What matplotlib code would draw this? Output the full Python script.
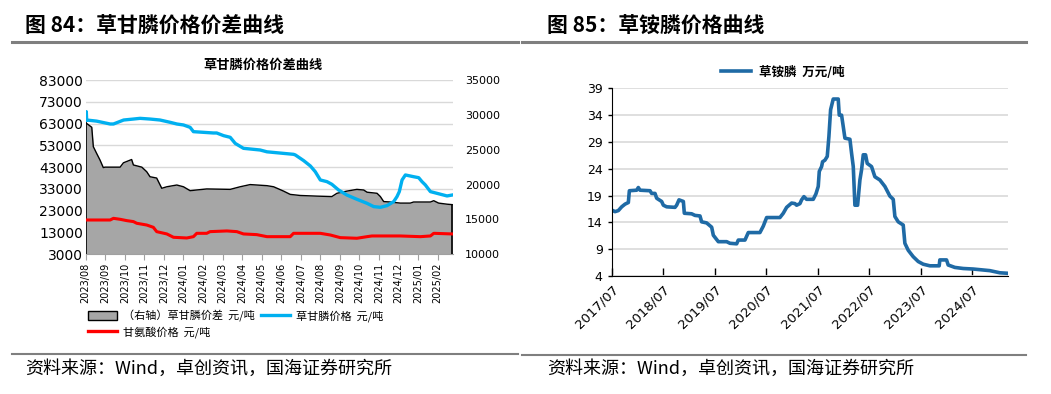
import matplotlib.pyplot as plt
import numpy as np
from matplotlib.lines import Line2D
from matplotlib.patches import Patch

plt.rcParams["font.family"] = ["Noto Sans CJK SC", "DejaVu Sans"]

# ---- left chart: glyphosate price / spread (x = months since 2023/08)
month_labels = ["2023/08", "2023/09", "2023/10", "2023/11", "2023/12",
                "2024/01", "2024/02", "2024/03", "2024/04", "2024/05",
                "2024/06", "2024/07", "2024/08", "2024/09", "2024/10",
                "2024/11", "2024/12", "2025/01", "2025/02"]

spread_x = [0, 0.31, 0.39, 0.56, 0.73, 0.9, 0.99, 1.76, 1.93, 2.35, 2.44,
            2.87, 3.12, 3.29, 3.63, 3.89, 4.15, 4.66, 5.0, 5.34, 6.19, 7.39,
            7.9, 8.41, 9.27, 9.61, 10.12, 10.46, 10.97, 11.83, 12.59, 12.85,
            13.36, 13.87, 14.22, 14.39, 14.9, 15.07, 15.24, 15.58, 16.09,
            16.6, 16.77, 17.63, 17.8, 18.05, 18.48, 18.74]
spread = [63400, 61300, 52400, 49300, 46300, 42800, 43000, 43000, 45000,
          46500, 44000, 43000, 40900, 38600, 38000, 33300, 34000, 34800,
          34000, 32200, 33000, 32800, 34000, 35000, 34500, 34000, 32000,
          30500, 30000, 29700, 29500, 31000, 32000, 32800, 32500, 31500,
          31000, 29500, 27200, 27000, 26500, 26500, 27000, 27000, 27600,
          26500, 26000, 25800]

gly_x = [0, 0.03, 0.05, 0.56, 1.25, 1.42, 1.94, 2.44, 2.78, 3.29, 3.8, 4.32,
         4.66, 5.0, 5.34, 5.51, 6.53, 6.7, 7.05, 7.39, 7.39, 7.65, 8.07, 8.92,
         9.27, 10.63, 10.72, 11.15, 11.49, 11.74, 12.0, 12.34, 12.59, 12.93,
         13.36, 13.87, 14.39, 14.73, 15.07, 15.41, 15.75, 15.92, 16.04,
         16.18, 16.35, 16.77, 17.03, 17.2, 17.37, 17.63, 18.48, 18.74]
gly_price = [29260, 30460, 29260, 29100, 28690, 28690, 29260, 29400, 29500,
             29400, 29260, 28930, 28690, 28550, 28210, 27590, 27400, 27400,
             27020, 26780, 26780, 25900, 25200, 24960, 24700, 24340, 24250,
             23430, 22670, 21850, 20660, 20420, 20040, 19230, 18500, 17890,
             17310, 16840, 16740, 16980, 17550, 18270, 18990, 20660, 21380,
             21130, 20990, 20420, 19950, 18990, 18370, 18500]

glycine_x = [0, 1.25, 1.42, 1.76, 2.1, 2.44, 2.61, 3.12, 3.46, 3.63, 4.15,
             4.49, 5.17, 5.51, 5.68, 6.19, 6.36, 7.22, 7.73, 8.07, 8.75, 9.27,
             10.46, 10.63, 12.0, 12.51, 13.02, 13.87, 14.39, 14.64, 16.09,
             17.12, 17.63, 17.8, 18.74]
glycine = [14920, 14920, 15160, 15020, 14830, 14690, 14450, 14200, 13870,
           13250, 12920, 12440, 12340, 12530, 13010, 13010, 13250, 13350,
           13250, 12920, 12820, 12530, 12530, 13010, 13010, 12770, 12390,
           12300, 12530, 12630, 12630, 12530, 12630, 13010, 12920]

# ---- right chart: glufosinate price (x = years since 2017/07)
year_labels = ["2017/07", "2018/07", "2019/07", "2020/07",
               "2021/07", "2022/07", "2023/07", "2024/07"]
glu_x = [0, 0.065, 0.129, 0.194, 0.259, 0.323, 0.343, 0.485, 0.517, 0.55,
         0.744, 0.776, 0.841, 0.873, 0.970, 1.003, 1.067, 1.229, 1.261,
         1.307, 1.391, 1.41, 1.552, 1.617, 1.714, 1.746, 1.843, 1.941,
         1.973, 2.070, 2.232, 2.296, 2.426, 2.458, 2.587, 2.652, 2.878,
         2.943, 3.008, 3.266, 3.331, 3.396, 3.493, 3.558, 3.590, 3.655,
         3.687, 3.732, 3.784, 3.913, 3.965, 4.010, 4.030, 4.075, 4.094,
         4.140, 4.185, 4.217, 4.250, 4.301, 4.398, 4.418, 4.463, 4.495,
         4.528, 4.625, 4.657, 4.690, 4.722, 4.774, 4.819, 4.851, 4.884,
         4.929, 4.961, 5.045, 5.110, 5.207, 5.304, 5.401, 5.466, 5.498,
         5.563, 5.660, 5.692, 5.757, 5.854, 5.951, 6.048, 6.177, 6.358,
         6.371, 6.501, 6.533, 6.662, 6.824, 7.018, 7.342, 7.536, 7.697]
glu_price = [16.3, 16.0, 16.2, 16.9, 17.4, 17.7, 19.9, 20.0, 20.5, 20.0,
             19.9, 19.4, 19.4, 18.5, 17.9, 17.2, 16.9, 16.8, 17.2, 18.2,
             17.9, 15.7, 15.6, 15.3, 15.2, 14.1, 13.9, 13.1, 11.6, 10.4,
             10.4, 10.1, 10.0, 10.7, 10.7, 12.1, 12.1, 13.3, 14.9, 14.9,
             15.7, 16.8, 17.6, 17.5, 17.2, 17.5, 18.2, 18.8, 18.3, 18.3,
             19.3, 20.7, 23.5, 24.4, 25.3, 25.6, 26.3, 30.0, 35.0, 37.0,
             37.0, 34.0, 34.0, 31.9, 29.7, 29.5, 26.9, 24.4, 17.2, 17.2,
             21.9, 23.8, 26.6, 26.6, 25.0, 24.4, 22.5, 21.9, 20.7, 18.9,
             18.3, 15.1, 14.1, 13.5, 10.1, 8.8, 7.6, 6.7, 6.2, 5.9, 5.9,
             7.0, 7.0, 6.05, 5.6, 5.4, 5.3, 5.0, 4.6, 4.5]

W, H = 1051, 394
fig = plt.figure(figsize=(W / 100, H / 100), dpi=100)


def px_rect(x0, y0, x1, y1):
    return [x0 / W, 1 - y1 / H, (x1 - x0) / W, (y1 - y0) / H]


def hline(x0, x1, y, lw):
    fig.add_artist(Line2D([x0 / W, x1 / W], [1 - y / H, 1 - y / H],
                          color="#7f7f7f", lw=lw, transform=fig.transFigure))


# headers and footers
fig.text(25 / W, 1 - 26 / H, "图 84：草甘膦价格价差曲线", fontsize=15,
         fontweight="bold", va="center", ha="left")
fig.text(547 / W, 1 - 26 / H, "图 85：草铵膦价格曲线", fontsize=15,
         fontweight="bold", va="center", ha="left")
hline(12, 518, 42, 2.2)
hline(522, 1026, 42, 2.2)
hline(12, 518, 354, 1.5)
hline(522, 1026, 355, 1.5)
src = "资料来源：Wind，卓创资讯，国海证券研究所"
fig.text(25 / W, 1 - 369 / H, src, fontsize=13, va="center", ha="left")
fig.text(547 / W, 1 - 369 / H, src, fontsize=13, va="center", ha="left")

# ---- left chart
ax1 = fig.add_axes(px_rect(85.7, 80, 452.7, 254.3))
ax2 = ax1.twinx()
ax1.fill_between(spread_x, 3000, spread, color="#a6a6a6", lw=0, zorder=2)
ax1.plot(spread_x, spread, color="black", lw=1, zorder=3)
ax1.plot([spread_x[0], spread_x[0]], [3000, spread[0]], color="black", lw=1.2, zorder=3)
ax1.plot([spread_x[-1], spread_x[-1]], [3000, spread[-1]], color="black", lw=1.2, zorder=3)
ax1.set_ylim(3000, 83000)
ax1.set_yticks(np.arange(3000, 83001, 10000))
ax1.set_xlim(0, 18.77)
ax1.set_xticks(range(len(month_labels)))
ax1.set_xticklabels(month_labels, rotation=90, fontsize=7, family="DejaVu Sans")
ax1.tick_params(axis="x", length=4, color="#a0a0a0", pad=2)
ax1.tick_params(axis="y", length=0, labelsize=10, pad=2)
for lab in ax1.get_yticklabels():
    lab.set_family("DejaVu Sans")
ax1.grid(axis="y", color="#d9d9d9", lw=1, zorder=0)
ax1.set_axisbelow(True)
for s in ["top", "left", "right"]:
    ax1.spines[s].set_visible(False)
    ax2.spines[s].set_visible(False)
ax2.spines["bottom"].set_visible(False)
ax1.spines["bottom"].set_color("#a0a0a0")

ax2.plot(gly_x, gly_price, color="#00b0f0", lw=2.4, zorder=4)
ax2.plot(glycine_x, glycine, color="#ff0000", lw=2.2, zorder=4)
ax2.set_ylim(10000, 35000)
ax2.set_yticks(np.arange(10000, 35001, 5000))
ax2.tick_params(axis="y", length=0, labelsize=8, pad=9)
for lab in ax2.get_yticklabels():
    lab.set_family("DejaVu Sans")

fig.text(263 / W, 1 - 65 / H, "草甘膦价格价差曲线", fontsize=9.5,
         fontweight="bold", ha="center", va="center")

handles = [Patch(facecolor="#a6a6a6", edgecolor="black", lw=1),
           Line2D([], [], color="#ff0000", lw=2.4),
           Line2D([], [], color="#00b0f0", lw=2.4)]
labels = ["（右轴）草甘膦价差  元/吨", "甘氨酸价格  元/吨", "草甘膦价格  元/吨"]
fig.legend(handles, labels, loc="upper left", bbox_to_anchor=(80 / W, 1 - 302 / H),
           ncol=2, frameon=False, fontsize=8, handlelength=2.6, handleheight=0.9,
           handletextpad=0.6, columnspacing=0.5, labelspacing=0.4,
           borderpad=0.2)

# ---- right chart
ax3 = fig.add_axes(px_rect(611.7, 88.3, 1008.3, 276))
ax3.plot(glu_x, glu_price, color="#1f6aa5", lw=2.6, label="草铵膦  万元/吨")
ax3.set_ylim(4, 39)
ax3.set_yticks(np.arange(4, 40, 5))
ax3.set_xlim(0, 7.7)
ax3.set_xticks(range(len(year_labels)))
ax3.set_xticklabels(year_labels, rotation=45, ha="right", rotation_mode="anchor",
                    fontsize=9.5, family="DejaVu Sans")
ax3.tick_params(axis="x", direction="in", length=6, width=1, pad=5)
ax3.tick_params(axis="y", direction="out", length=3, width=1, labelsize=9)
for lab in ax3.get_yticklabels():
    lab.set_family("DejaVu Sans")
ax3.grid(axis="y", color="#d9d9d9", lw=1.2)
ax3.set_axisbelow(True)
ax3.spines["top"].set_visible(False)
ax3.spines["right"].set_visible(False)
ax3.legend(loc="center", bbox_to_anchor=(783 / W, 1 - 72 / H),
           bbox_transform=fig.transFigure, frameon=False,
           handlelength=2.4, handletextpad=0.6,
           prop={"weight": "bold", "size": 9})

fig.savefig("out.png", dpi=100)
